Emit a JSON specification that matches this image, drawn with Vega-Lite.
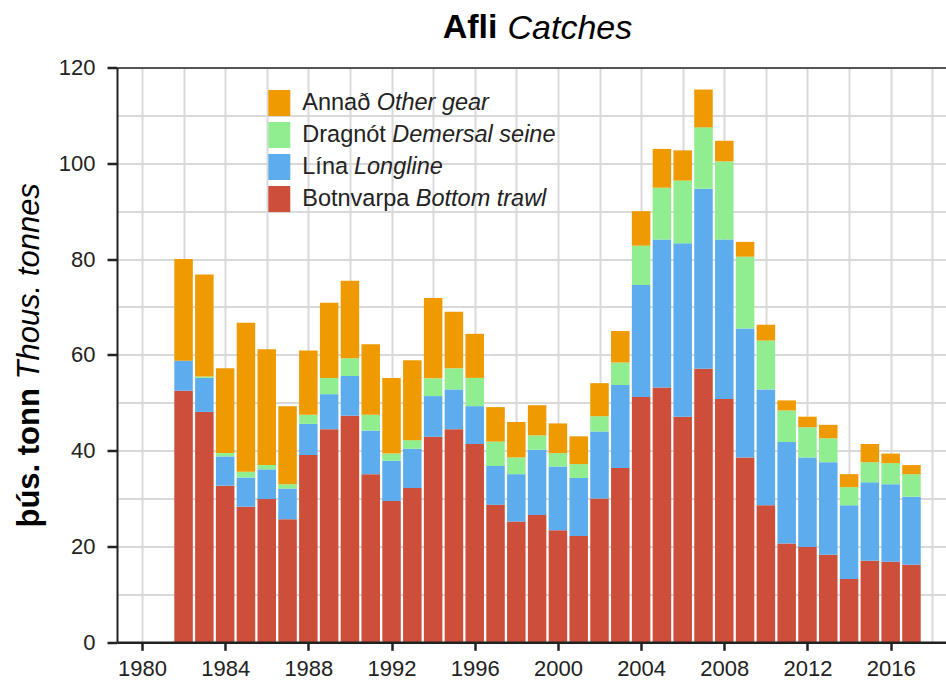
{
  "$schema": "https://vega.github.io/schema/vega-lite/v6.json",
  "width": 829,
  "height": 574.8,
  "autosize": {"type": "none"},
  "padding": {"left": 117, "top": 67.5, "right": 0, "bottom": 40},
  "background": "white",
  "config": {"font": "Liberation Sans", "view": {"stroke": null}},
  "title": {"text": "Afli", "fontSize": 34, "fontWeight": "bold", "color": "#000", "anchor": "start", "frame": "group", "align": "left", "baseline": "alphabetic", "dx": 325.7, "dy": 61, "offset": 0},
  "datasets": {
    "catch": [
      {"year": 1982, "Botnvarpa": 52.5, "Lína": 6.3, "Dragnót": 0, "Annað": 21.2},
      {"year": 1983, "Botnvarpa": 48.1, "Lína": 7.1, "Dragnót": 0.3, "Annað": 21.3},
      {"year": 1984, "Botnvarpa": 32.7, "Lína": 6.1, "Dragnót": 0.7, "Annað": 17.7},
      {"year": 1985, "Botnvarpa": 28.3, "Lína": 6.1, "Dragnót": 1.2, "Annað": 31.1},
      {"year": 1986, "Botnvarpa": 29.9, "Lína": 6.2, "Dragnót": 0.9, "Annað": 24.2},
      {"year": 1987, "Botnvarpa": 25.7, "Lína": 6.4, "Dragnót": 0.9, "Annað": 16.3},
      {"year": 1988, "Botnvarpa": 39.1, "Lína": 6.5, "Dragnót": 1.9, "Annað": 13.4},
      {"year": 1989, "Botnvarpa": 44.5, "Lína": 7.3, "Dragnót": 3.4, "Annað": 15.7},
      {"year": 1990, "Botnvarpa": 47.3, "Lína": 8.3, "Dragnót": 3.7, "Annað": 16.2},
      {"year": 1991, "Botnvarpa": 35.1, "Lína": 9.1, "Dragnót": 3.3, "Annað": 14.7},
      {"year": 1992, "Botnvarpa": 29.5, "Lína": 8.4, "Dragnót": 1.5, "Annað": 15.8},
      {"year": 1993, "Botnvarpa": 32.2, "Lína": 8.2, "Dragnót": 1.8, "Annað": 16.7},
      {"year": 1994, "Botnvarpa": 42.9, "Lína": 8.5, "Dragnót": 3.7, "Annað": 16.8},
      {"year": 1995, "Botnvarpa": 44.5, "Lína": 8.3, "Dragnót": 4.4, "Annað": 11.8},
      {"year": 1996, "Botnvarpa": 41.4, "Lína": 7.9, "Dragnót": 5.9, "Annað": 9.2},
      {"year": 1997, "Botnvarpa": 28.7, "Lína": 8.1, "Dragnót": 5.1, "Annað": 7.2},
      {"year": 1998, "Botnvarpa": 25.2, "Lína": 9.9, "Dragnót": 3.5, "Annað": 7.4},
      {"year": 1999, "Botnvarpa": 26.6, "Lína": 13.6, "Dragnót": 3.0, "Annað": 6.3},
      {"year": 2000, "Botnvarpa": 23.4, "Lína": 13.3, "Dragnót": 2.8, "Annað": 6.2},
      {"year": 2001, "Botnvarpa": 22.2, "Lína": 12.1, "Dragnót": 2.9, "Annað": 5.8},
      {"year": 2002, "Botnvarpa": 30.0, "Lína": 14.0, "Dragnót": 3.2, "Annað": 6.9},
      {"year": 2003, "Botnvarpa": 36.4, "Lína": 17.3, "Dragnót": 4.7, "Annað": 6.6},
      {"year": 2004, "Botnvarpa": 51.2, "Lína": 23.4, "Dragnót": 8.2, "Annað": 7.2},
      {"year": 2005, "Botnvarpa": 53.2, "Lína": 30.9, "Dragnót": 10.8, "Annað": 8.1},
      {"year": 2006, "Botnvarpa": 47.1, "Lína": 36.2, "Dragnót": 13.1, "Annað": 6.3},
      {"year": 2007, "Botnvarpa": 57.1, "Lína": 37.6, "Dragnót": 12.8, "Annað": 7.9},
      {"year": 2008, "Botnvarpa": 50.8, "Lína": 33.3, "Dragnót": 16.3, "Annað": 4.3},
      {"year": 2009, "Botnvarpa": 38.6, "Lína": 26.9, "Dragnót": 15.0, "Annað": 3.1},
      {"year": 2010, "Botnvarpa": 28.6, "Lína": 24.2, "Dragnót": 10.2, "Annað": 3.3},
      {"year": 2011, "Botnvarpa": 20.6, "Lína": 21.2, "Dragnót": 6.6, "Annað": 2.1},
      {"year": 2012, "Botnvarpa": 19.9, "Lína": 18.7, "Dragnót": 6.3, "Annað": 2.2},
      {"year": 2013, "Botnvarpa": 18.3, "Lína": 19.3, "Dragnót": 5.0, "Annað": 2.8},
      {"year": 2014, "Botnvarpa": 13.2, "Lína": 15.4, "Dragnót": 3.8, "Annað": 2.7},
      {"year": 2015, "Botnvarpa": 17.0, "Lína": 16.4, "Dragnót": 4.2, "Annað": 3.8},
      {"year": 2016, "Botnvarpa": 16.8, "Lína": 16.2, "Dragnót": 4.4, "Annað": 2.0},
      {"year": 2017, "Botnvarpa": 16.2, "Lína": 14.2, "Dragnót": 4.7, "Annað": 1.9}
    ],
    "gears": [
      {"gear": "Annað", "en": "Other gear"},
      {"gear": "Dragnót", "en": "Demersal seine"},
      {"gear": "Lína", "en": "Longline"},
      {"gear": "Botnvarpa", "en": "Bottom trawl"}
    ]
  },
  "data": {"name": "catch"},
  "transform": [
    {"fold": ["Botnvarpa", "Lína", "Dragnót", "Annað"], "as": ["gear", "value"]},
    {"lookup": "gear", "from": {"data": {"name": "gears"}, "key": "gear", "fields": ["en"]}},
    {"calculate": "indexof(['Botnvarpa','Lína','Dragnót','Annað'], datum.gear)", "as": "rank"}
  ],
  "layer": [
    {
      "mark": {"type": "bar", "width": 18.5, "strokeWidth": 0},
      "encoding": {
        "x": {
          "field": "year", "type": "quantitative",
          "scale": {"domain": [1979.04, 2018.42], "nice": false, "zero": false},
          "axis": {"orient": "bottom", "values": [1980, 1984, 1988, 1992, 1996, 2000, 2004, 2008, 2012, 2016], "format": "d", "grid": false, "title": null,
            "labelFontSize": 22, "labelColor": "#222", "labelPadding": 8, "tickSize": 8, "tickWidth": 2.5, "tickColor": "#222",
            "domainColor": "#222", "domainWidth": 2.5, "zindex": 2}
        },
        "y": {
          "field": "value", "type": "quantitative", "stack": "zero",
          "scale": {"domain": [0, 120], "nice": false},
          "axis": {"orient": "left", "values": [0, 20, 40, 60, 80, 100, 120], "grid": false,
            "title": "þús. tonn", "titleFontSize": 31, "titleFontWeight": "bold", "titleColor": "#000", "titleAngle": 270,
            "titleAlign": "left", "titleBaseline": "alphabetic", "titleX": -79, "titleY": 459.5,
            "labelFontSize": 22, "labelColor": "#222", "labelPadding": 12, "tickSize": 10, "tickWidth": 2.5, "tickColor": "#222",
            "domainColor": "#222", "domainWidth": 2, "zindex": 2}
        },
        "fill": {
          "field": "gear", "type": "nominal",
          "scale": {"domain": ["Annað", "Dragnót", "Lína", "Botnvarpa"], "range": ["#EE9A00", "#90EE90", "#5CACEE", "#CD4F39"]},
          "legend": {"orient": "none", "legendX": 149.3, "legendY": 22.5, "title": null, "padding": 0,
            "symbolType": "M-0.846,-1H0.846V1H-0.846Z", "symbolSize": 676, "symbolStrokeWidth": 0, "symbolOpacity": 1,
            "labelFontSize": 23.5, "labelColor": "#222", "labelOffset": 10, "rowPadding": 6, "labelLimit": 500}
        },
        "stroke": {
          "field": "en", "type": "nominal",
          "scale": {"domain": ["Other gear", "Demersal seine", "Longline", "Bottom trawl"], "range": ["white", "white", "white", "white"]},
          "legend": {"orient": "none", "legendX": 149.3, "legendY": 22.5, "title": null, "padding": 0,
            "symbolType": "M-0.846,-1H0.846V1H-0.846Z", "symbolSize": 676, "symbolOpacity": 0, "symbolStrokeWidth": 0,
            "labelFontSize": 23.5, "labelFontStyle": "italic", "labelColor": "#222", "labelOffset": 10, "rowPadding": 6, "labelLimit": 600,
            "labelExpr": "datum.label == 'Other gear' ? '\u200B\u2003\u2003\u2003\u2006Other gear' : datum.label == 'Demersal seine' ? '\u200B\u2003\u2003\u2003\u2002\u2004Demersal seine' : datum.label == 'Longline' ? '\u200B\u2003\u2003\u2009Longline' : '\u200B\u2003\u2003\u2003\u2003\u2002\u2004Bottom trawl'"}
        },
        "order": {"field": "rank", "type": "quantitative"}
      }
    },
    {
      "mark": {"type": "point", "opacity": 0},
      "encoding": {
        "x": {
          "field": "year", "type": "quantitative",
          "scale": {"domain": [1979.04, 2018.42], "nice": false, "zero": false},
          "axis": {"orient": "top", "values": [1980, 1982, 1984, 1986, 1988, 1990, 1992, 1994, 1996, 1998, 2000, 2002, 2004, 2006, 2008, 2010, 2012, 2014, 2016, 2018],
            "grid": true, "gridColor": "#d9d9d9", "gridWidth": 2, "labels": false, "ticks": false,
            "domain": true, "domainColor": "#555", "domainWidth": 2,
            "title": "Catches", "titleFontSize": 34, "titleFontStyle": "italic", "titleFontWeight": "normal", "titleColor": "#000",
            "titleAngle": 0, "titleAlign": "left", "titleBaseline": "alphabetic", "titleX": 390, "titleY": -29.2, "zindex": 0}
        },
        "y": {
          "field": "value", "type": "quantitative",
          "scale": {"domain": [0, 120], "nice": false},
          "axis": {"orient": "right", "values": [0, 10, 20, 30, 40, 50, 60, 70, 80, 90, 100, 110, 120],
            "grid": true, "gridColor": "#d9d9d9", "gridWidth": 2, "labels": false, "ticks": false, "domain": false,
            "title": "Thous. tonnes", "titleFontSize": 31, "titleFontStyle": "italic", "titleFontWeight": "normal", "titleColor": "#000",
            "titleAngle": 270, "titleAlign": "left", "titleBaseline": "alphabetic", "titleX": -908, "titleY": 311.5, "zindex": 0}
        }
      }
    }
  ],
  "resolve": {"axis": {"x": "independent", "y": "independent"}}
}
